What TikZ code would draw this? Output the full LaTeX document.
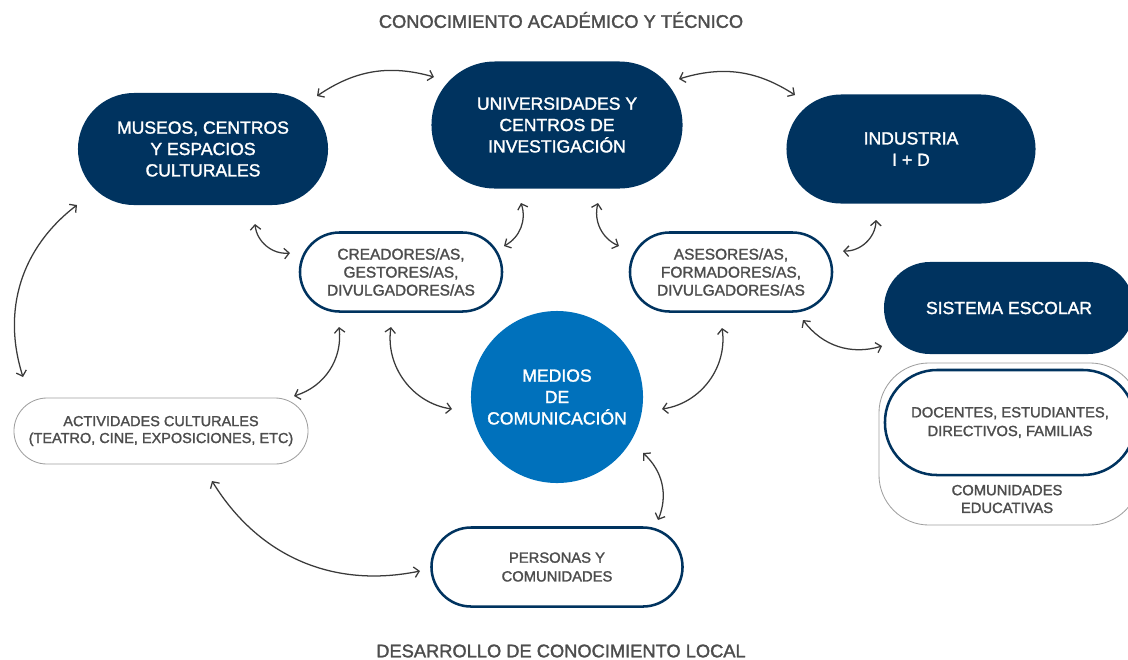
\documentclass[tikz,border=0pt]{standalone}
\usepackage{fontspec}
\setmainfont{Liberation Sans}[FakeBold=1.6]
\usetikzlibrary{arrows.meta}
\definecolor{navy}{HTML}{00335F}
\definecolor{azul}{HTML}{0071BC}
\definecolor{gristxt}{HTML}{4D4D4D}
\definecolor{flechagris}{HTML}{3A3A3A}
\tikzset{
  oscuro/.style={fill=navy, text=white, align=center, font=\fontsize{12.5}{15.2}\selectfont},
  claro/.style={draw=navy, line width=1.8pt, fill=white, text=gristxt, align=center, font=\fontsize{11}{12.8}\selectfont},
  fino/.style={draw=gray!75, line width=0.6pt, fill=white, text=gristxt, align=center, font=\fontsize{10.3}{12}\selectfont},
  titulo/.style={text=gristxt, font=\fontsize{13}{15}\selectfont},
  flecha/.style={draw=flechagris, line width=0.9pt, {Straight Barb[length=3.5pt,width=7.5pt]}-{Straight Barb[length=3.5pt,width=7.5pt]}},
}

\begin{document}
\begin{tikzpicture}[x=0.025cm,y=0.025cm]
\useasboundingbox (0,0) rectangle (1128,-659);

\node[titulo] (tit1) at (561,-20) {CONOCIMIENTO ACADÉMICO Y TÉCNICO};
\node[titulo] (tit2) at (561,-651) {DESARROLLO DE CONOCIMIENTO LOCAL};

% nodos oscuros
\node[oscuro, minimum width=6.25cm, minimum height=2.8cm, rounded corners=1.4cm] (mus) at (203,-149) {MUSEOS, CENTROS\\Y ESPACIOS\\CULTURALES};
\node[oscuro, minimum width=6.275cm, minimum height=3.175cm, rounded corners=1.5875cm] (uni) at (557,-125) {UNIVERSIDADES Y\\CENTROS DE\\INVESTIGACIÓN};
\node[oscuro, minimum width=6.225cm, minimum height=2.725cm, rounded corners=1.3625cm] (ind) at (911,-149) {INDUSTRIA\\I + D};
\node[oscuro, minimum width=6.25cm, minimum height=2.3cm, rounded corners=1.15cm] (esc) at (1009,-308) {SISTEMA ESCOLAR};

% nodos claros
\node[claro, minimum width=5.05cm, minimum height=1.975cm, rounded corners=0.99cm] (cre) at (401,-272) {CREADORES/AS,\\GESTORES/AS,\\DIVULGADORES/AS};
\node[claro, minimum width=5.05cm, minimum height=1.975cm, rounded corners=0.99cm] (ase) at (731,-272) {ASESORES/AS,\\FORMADORES/AS,\\DIVULGADORES/AS};
\node[claro, minimum width=6.275cm, minimum height=1.975cm, rounded corners=0.99cm, font=\fontsize{10.5}{13.3}\selectfont] (per) at (557,-567) {PERSONAS Y\\COMUNIDADES};
\node[fino, minimum width=7.35cm, minimum height=1.65cm, rounded corners=0.825cm] (act) at (161,-431) {ACTIVIDADES CULTURALES\\(TEATRO, CINE, EXPOSICIONES, ETC)};

\node[circle, fill=azul, text=white, minimum size=4.3cm, align=center, font=\fontsize{12.5}{15.2}\selectfont] (med) at (557,-397) {MEDIOS\\DE\\COMUNICACIÓN};

% comunidades educativas
\node[fino, minimum width=6.525cm, minimum height=4.05cm, rounded corners=1.25cm] (com) at (1009.5,-444) {};
\node[claro, minimum width=6.25cm, minimum height=2.625cm, rounded corners=1.3cm, font=\fontsize{10.5}{13.3}\selectfont] (doc) at (1010,-422.5) {DOCENTES, ESTUDIANTES,\\DIRECTIVOS, FAMILIAS};
\node[text=gristxt, align=center, font=\fontsize{10.5}{12.6}\selectfont] (comtxt) at (1007,-499) {COMUNIDADES\\EDUCATIVAS};

% flechas
\coordinate (f1a) at (317,-96);  \coordinate (f1b) at (434,-77);
\coordinate (f2a) at (679,-79);  \coordinate (f2b) at (795,-95);
\coordinate (f3a) at (77,-205);  \coordinate (f3b) at (23,-377);
\coordinate (f4a) at (255,-224); \coordinate (f4b) at (290,-253);
\coordinate (f5a) at (521,-203); \coordinate (f5b) at (504,-246);
\coordinate (f6a) at (598,-203); \coordinate (f6b) at (619,-246);
\coordinate (f7a) at (876,-220); \coordinate (f7b) at (843,-251);
\coordinate (f8a) at (339,-327); \coordinate (f8b) at (294,-396);
\coordinate (f9a) at (391,-327); \coordinate (f9b) at (452,-409);
\coordinate (f10a) at (722,-328); \coordinate (f10b) at (662,-409);
\coordinate (f11a) at (803,-320); \coordinate (f11b) at (882,-346);
\coordinate (f12a) at (643,-453); \coordinate (f12b) at (658,-520);
\coordinate (f13a) at (212,-481); \coordinate (f13b) at (420,-571);

\draw[flecha] (f1a) to[bend left=25] (f1b);
\draw[flecha] (f2a) to[bend left=25] (f2b);
\draw[flecha] (f3a) to[bend right=35] (f3b);
\draw[flecha] (f4a) to[bend right=45] (f4b);
\draw[flecha] (f5a) to[bend left=40] (f5b);
\draw[flecha] (f6a) to[bend right=40] (f6b);
\draw[flecha] (f7a) to[bend left=45] (f7b);
\draw[flecha] (f8a) to[bend left=40] (f8b);
\draw[flecha] (f9a) to[bend right=45] (f9b);
\draw[flecha] (f10a) to[bend left=45] (f10b);
\draw[flecha] (f11a) to[bend right=35] (f11b);
\draw[flecha] (f12a) to[bend left=35] (f12b);
\draw[flecha] (f13a) to[bend right=35] (f13b);
\end{tikzpicture}
\end{document}
